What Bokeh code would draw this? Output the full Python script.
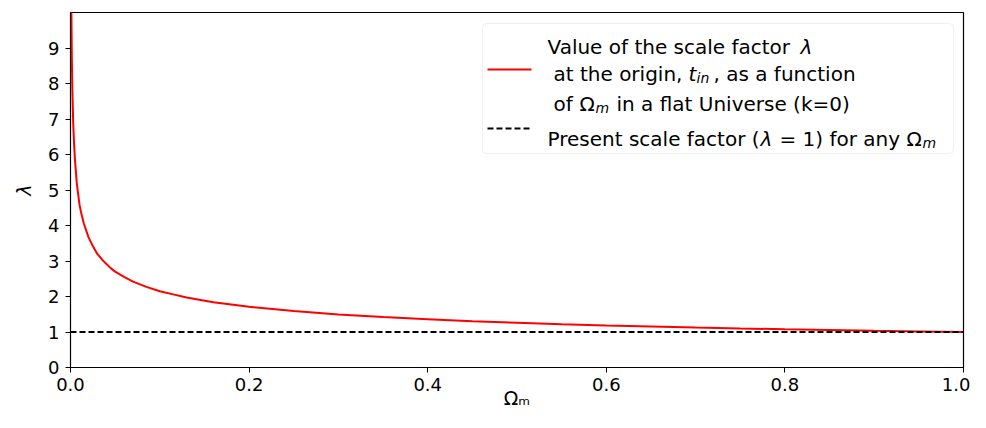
from bokeh.plotting import figure
from bokeh.models import Range1d, FixedTicker, Label, BoxAnnotation, NumeralTickFormatter
from bokeh.embed import file_html
from bokeh.resources import INLINE

# ---- data ----
omega_m = [0.0009, 0.001, 0.0015, 0.002, 0.003, 0.004, 0.005, 0.007, 0.0085, 0.01,
           0.012, 0.015, 0.02, 0.025, 0.03, 0.035, 0.04, 0.045, 0.05, 0.06, 0.07,
           0.085, 0.1, 0.115, 0.13, 0.16, 0.2, 0.25, 0.3, 0.35, 0.4, 0.45, 0.5,
           0.55, 0.6, 0.65, 0.7, 0.75, 0.8, 0.85, 0.9, 0.95, 1.0]
lam = [10.4, 10.0, 8.7, 7.9, 6.9, 6.3, 5.85, 5.2, 4.9, 4.6,
       4.35, 4.05, 3.68, 3.42, 3.2, 3.05, 2.92, 2.8, 2.7, 2.55, 2.42,
       2.27, 2.15, 2.06, 1.97, 1.84, 1.71, 1.59, 1.49, 1.42, 1.36, 1.30, 1.26,
       1.22, 1.185, 1.155, 1.125, 1.10, 1.077, 1.056, 1.035, 1.017, 1.0]
present_x = [0.0, 1.0]
present_y = [1.0, 1.0]
x_ticks = [0.0, 0.2, 0.4, 0.6, 0.8, 1.0]
y_ticks = [0, 1, 2, 3, 4, 5, 6, 7, 8, 9]

FONT = "DejaVu Sans"

p = figure(width=970, height=412, output_backend="svg", toolbar_location=None,
           x_range=Range1d(0, 1), y_range=Range1d(0, 10))
p.min_border_left = 70
p.min_border_right = 7
p.min_border_top = 12
p.min_border_bottom = 45
p.grid.visible = False
p.outline_line_color = "black"
p.outline_line_width = 1.2
p.outline_line_alpha = 1.0

for ax in (p.xaxis[0], p.yaxis[0]):
    ax.axis_line_color = "black"
    ax.major_tick_line_color = "black"
    ax.major_tick_out = 5
    ax.major_tick_in = 0
    ax.minor_tick_line_color = None
    ax.major_label_text_font = FONT
    ax.major_label_text_font_size = "18px"
    ax.major_label_text_color = "black"
    ax.axis_label_text_color = "black"
    ax.axis_label_text_font = FONT
    ax.axis_label_text_font_size = "19px"

p.xaxis.ticker = FixedTicker(ticks=x_ticks)
p.xaxis.formatter = NumeralTickFormatter(format="0.0")
p.xaxis.major_label_standoff = 5
p.xaxis.axis_label = "Ωₘ"
p.xaxis.axis_label_text_font_style = "normal"
p.xaxis.axis_label_standoff = -7

p.yaxis.ticker = FixedTicker(ticks=y_ticks)
p.yaxis.major_label_standoff = 6
p.yaxis.axis_label = "λ"
p.yaxis.axis_label_text_font_style = "italic"
p.yaxis.axis_label_standoff = 10

p.line(omega_m, lam, line_color="red", line_width=2)
p.line(present_x, present_y, line_color="black", line_width=2, line_dash="6 3")

# helpers: picture pixel -> data coords (positions only)
def dx(px):
    return (px - 70) / 893.0

def dy(py):
    return (367 - py) / 35.5

def txt(x, y, s, size="20px", style="normal", align="left"):
    p.add_layout(Label(x=dx(x), y=dy(y), text=s, text_font=FONT, text_font_size=size,
                       text_font_style=style, text_align=align, text_baseline="alphabetic",
                       text_color="black"))

# legend box
box = BoxAnnotation(left=dx(482), right=dx(953), top=dy(23), bottom=dy(153),
                    fill_color="white", fill_alpha=0.8, line_color="#cccccc",
                    line_width=1, border_radius=4, level="underlay")
p.add_layout(box)
p.segment(x0=[dx(487)], y0=[dy(69)], x1=[dx(531)], y1=[dy(69)], line_color="red", line_width=2)
p.segment(x0=[dx(487)], y0=[dy(128)], x1=[dx(531)], y1=[dy(128)], line_color="black",
          line_width=2, line_dash="6 3")

# line 1
txt(547, 46, "Value of the scale factor")
txt(800, 46, "λ", style="italic")
# line 2
txt(553, 73, "at the origin,")
txt(688, 73, "t", style="italic")
txt(696, 77, "in", size="14px", style="italic")
txt(713, 73, ", as a function")
# line 3
txt(553, 103, "of")
txt(579, 103, "Ω")
txt(595, 107, "m", size="14px", style="italic")
txt(616, 103, "in a flat Universe (k=0)")
# line 4
txt(547, 138, "Present scale factor (")
txt(760, 138, "λ", style="italic")
txt(779, 138, "= 1) for any")
txt(906, 138, "Ω")
txt(922, 142, "m", size="14px", style="italic")

open("out.html", "w").write(file_html(p, INLINE))
